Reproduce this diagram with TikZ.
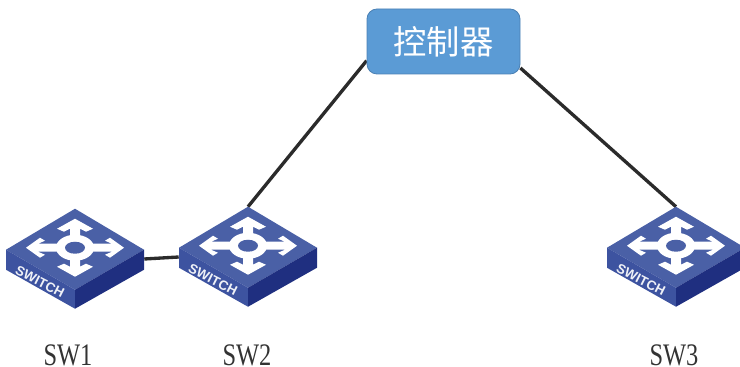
\documentclass[tikz,border=0pt]{standalone}
\usepackage{fontspec}
\setmainfont{Liberation Serif}
\newfontfamily\cjkfont{Noto Sans CJK SC}
\newfontfamily\tagfont{Liberation Sans}
\newfontfamily\labfont[FakeStretch=0.78]{Liberation Serif}
\usetikzlibrary{backgrounds}
\definecolor{swtop}{HTML}{4A60A6}
\definecolor{swleft}{HTML}{3D53A0}
\definecolor{swright}{HTML}{1F2F80}
\definecolor{ctrlfill}{HTML}{5B9BD5}
\definecolor{ctrlline}{HTML}{4A80B4}
\definecolor{wirecol}{HTML}{2B2B2B}
\tikzset{
  swbox/.style={minimum width=103.5pt,minimum height=75pt,inner sep=0pt},
  ctrlbox/.style={draw=ctrlline,line width=0.6pt,fill=ctrlfill,rounded corners=7.5pt,
    minimum width=114.75pt,minimum height=48.75pt,inner sep=0pt,text=white,font=\cjkfont\fontsize{25}{25}\selectfont},
  wire/.style={draw=wirecol,line width=2.5pt},
  swlabel/.style={inner sep=0pt,text=black!80,font=\labfont\fontsize{23.5}{23.5}\selectfont},
  pics/switchart/.style={code={
    \fill[swtop] (0,0) -- (69,41) -- (0,81) -- (-69,41) -- cycle;
    \fill[swleft] (-69,41) -- (0,81) -- (0,100) -- (-69,61) -- cycle;
    \fill[swright] (69,41) -- (0,81) -- (0,100) -- (69,61) -- cycle;
    \begin{scope}[shift={(0,39)}]
      \fill[white] (-5,-10) -- (-5,-19) -- (-11,-16) -- (-18,-19) -- (0,-29) -- (18,-19) -- (11,-16) -- (5,-19) -- (5,-10)
        -- (14,-4) -- (37,-4) -- (30,-7) -- (35,-10) -- (49,0) -- (35,10) -- (30,7) -- (37,4) -- (14,4)
        -- (5,10) -- (5,19) -- (11,16) -- (18,19) -- (0,29) -- (-18,19) -- (-11,16) -- (-5,19) -- (-5,10)
        -- (-14,4) -- (-37,4) -- (-30,7) -- (-35,10) -- (-49,0) -- (-35,-10) -- (-30,-7) -- (-37,-4) -- (-14,-4) -- cycle;
      \fill[white] (0,0) ellipse [x radius=19,y radius=13];
      \fill[swtop] (0,0) ellipse [x radius=10,y radius=6];
    \end{scope}
    \node[rotate=-27,inner sep=0pt,text=white!92!swleft,font=\tagfont\bfseries\fontsize{10}{10}\selectfont] (tag) at (-35,73) {SWITCH};
  }}
}
\begin{document}
\begin{tikzpicture}[x=0.75pt,y=-0.75pt]
  \useasboundingbox (0,0) rectangle (740,367);
  \node[ctrlbox] (ctrl) at (443.5,41.5) {控制器};
  \node[swbox] (sw1) at (75,259) {};
  \node[swbox] (sw2) at (248,257) {};
  \node[swbox] (sw3) at (676,257) {};
  \pic (art1) at (sw1.north) {switchart};
  \pic (art2) at (sw2.north) {switchart};
  \pic (art3) at (sw3.north) {switchart};
  \node[swlabel] (lab1) at (68,355) {SW1};
  \node[swlabel] (lab2) at (247,355) {SW2};
  \node[swlabel] (lab3) at (674,355) {SW3};
  \begin{pgfonlayer}{background}
    \draw[wire] (ctrl.194) -- (sw2.north);
    \draw[wire] (ctrl.-19) -- (sw3.north);
    \draw[wire] (sw1.east) -- (sw2.west);
  \end{pgfonlayer}
\end{tikzpicture}
\end{document}
